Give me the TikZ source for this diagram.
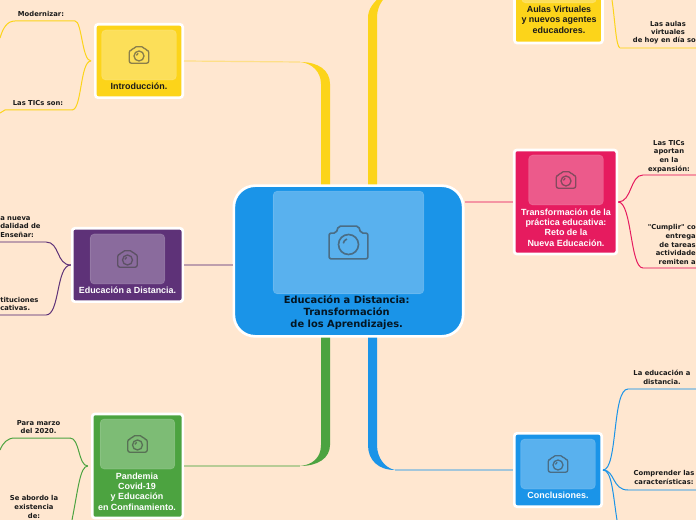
\documentclass[tikz,border=0pt]{standalone}
\usepackage{fontspec}
\setmainfont{Liberation Sans}
\newfontfamily\hojafont{DejaVu Sans}
\definecolor{fondo}{HTML}{FFE7D0}
\definecolor{amarillo}{HTML}{FCD41A}
\definecolor{azul}{HTML}{1A94E8}
\definecolor{morado}{HTML}{5E3278}
\definecolor{verde}{HTML}{4CA340}
\definecolor{rosa}{HTML}{E61B5F}
\definecolor{texto}{HTML}{1A1A1A}
\tikzset{
	central/.style={draw=white,line width=2pt,fill=azul,rounded corners=16pt,minimum width=172pt,minimum height=113pt},
	tema/.style={draw=white,line width=2pt,rounded corners=2pt,fill=#1},
	foto/.style={draw=white,draw opacity=.15,line width=.5pt,rounded corners=3pt,fill=white,fill opacity=.28,minimum width=56pt,minimum height=37.5pt},
	fotogrande/.style={foto,minimum width=113pt,minimum height=77pt},
	rotulo/.style={font=\bfseries\fontsize{6.7}{7.75}\selectfont,align=center,inner sep=0pt,text=white},
	hoja/.style={font=\hojafont\bfseries\fontsize{5.1}{6.5}\selectfont,align=center,inner sep=0pt,text=texto},
	rama/.style={line width=.75pt,#1},
	barra/.style={line width=.9pt,#1!40!fondo},
	camara/.pic={
		\draw[draw=black!75,opacity=.6,line join=round]
			(-9.7,8.2) [rounded corners=1.5pt] -- (-9.7,-4.7) -- (-6.2,-4.7) -- (-5,-8.2) -- (5,-8.2) -- (6.2,-4.7) -- (9.7,-4.7) -- (9.7,8.2) -- cycle;
		\draw[draw=black!75,opacity=.6] (0,1) circle (5);
		\draw[draw=black!75,opacity=.6] (-2.6,.4) arc (190:250:2.8);
	},
	camarachica/.style={scale=1,line width=1pt},
	camaragrande/.style={scale=2,line width=1.25pt}
}
\begin{document}
\begin{tikzpicture}[x=.75pt,y=-.75pt]
	\fill[fondo] (0,0) rectangle (696,520);
	\useasboundingbox (0,0) rectangle (696,520);

	% Troncos que salen del nodo central
	\fill[amarillo] (321,190) -- (321,84) .. controls (321,72) and (312,63) .. (300,62) .. controls (318,62) and (330,70) .. (330,84) -- (330,190) -- cycle;
	\fill[amarillo] (368,190) -- (368,18) .. controls (368,9) and (373,3) .. (381,-4) -- (386,-4) .. controls (380,3) and (377,9) .. (377,18) -- (377,190) -- cycle;
	\fill[verde] (321,330) -- (321,445) .. controls (321,458) and (312,465) .. (300,466) .. controls (318,466) and (330,458) .. (330,445) -- (330,330) -- cycle;
	\fill[azul] (368,330) -- (368,445) .. controls (368,460) and (378,470) .. (395,470) .. controls (385,468) and (377,458) .. (377,445) -- (377,330) -- cycle;

	% Nodo central
	\node[central] (centro) at (348.5,261) {};
	\node[fotogrande] (fotocentro) at (348.5,242.5) {};
	\pic[camaragrande] at (fotocentro) {camara};
	\node[rotulo,font=\hojafont\bfseries\fontsize{7.4}{9}\selectfont,text=black!85!azul] (titulo) at (346.7,313) {Educación a Distancia:\\Transformación\\de los Aprendizajes.};

	% Temas
	\node[tema=amarillo,minimum width=65.5pt,minimum height=55pt] (intro) at (139,61) {};
	\node[foto] (fotointro) at (139,55) {};
	\pic[camarachica] at (fotointro) {camara};
	\node[rotulo,text=texto] (tintro) at (139,86) {Introducción.};

	\node[tema=morado,minimum width=83pt,minimum height=55pt] (distancia) at (127.5,265) {};
	\node[foto] (fotodistancia) at (127.5,259) {};
	\pic[camarachica] at (fotodistancia) {camara};
	\node[rotulo] (tdistancia) at (127.5,290) {Educación a Distancia.};

	\node[tema=verde,minimum width=68pt,minimum height=78pt] (pandemia) at (137.5,466) {};
	\node[foto] (fotopandemia) at (137.5,444) {};
	\pic[camarachica] at (fotopandemia) {camara};
	\node[rotulo,align=center] (tpandemia) at (137,491.5) {Pandemia\\Covid-19\\y Educación\\en Confinamiento.};

	\node[tema=amarillo,minimum width=66pt,minimum height=60pt] (aulas) at (558.5,3) {};
	\node[foto] (fotoaulas) at (559,-22) {};
	\node[rotulo,text=texto] (taulas) at (559,19.5) {Aulas Virtuales\\y nuevos agentes\\educadores.};

	\node[tema=rosa,minimum width=77pt,minimum height=78pt] (reto) at (565.5,202) {};
	\node[foto] (fotoreto) at (566,180) {};
	\pic[camarachica] at (fotoreto) {camara};
	\node[rotulo] (treto) at (566,227.5) {Transformación de la\\práctica educativa:\\Reto de la\\Nueva Educación.};

	\node[tema=azul,minimum width=65.5pt,minimum height=55pt] (conclu) at (558,470) {};
	\node[foto] (fotoconclu) at (558,464) {};
	\pic[camarachica] at (fotoconclu) {camara};
	\node[rotulo] (tconclu) at (558,495) {Conclusiones.};

	% Puntos de paso de las ramas
	\coordinate (ci) at (300,62);
	\coordinate (cv) at (300,466);
	\coordinate (ca) at (395,470);

	% Lineas finas hasta cada tema
	\draw[barra=amarillo] (ci) -- (intro.east);
	\draw[barra=verde] (cv) -- (pandemia.east);
	\draw[barra=azul] (ca) -- (conclu.west);
	\draw[barra=morado] (centro.west |- distancia) -- (distancia.east);
	\draw[barra=rosa] (centro.east |- reto) -- (reto.west);

	% Hojas de Introduccion
	\coordinate (i1) at (75,21); \coordinate (i2) at (72,110);
	\draw[rama=amarillo] (intro.west) ++(-3,0) .. controls (82,61) and (82,21) .. (i1);
	\draw[rama=amarillo] (intro.west) ++(-3,0) .. controls (80,61) and (82,110) .. (i2);
	\draw[rama=amarillo] (i1) -- (15,21) .. controls (7,21) and (3,28) .. (0,38);
	\draw[rama=amarillo] (i2) -- (5,110) -- (0,113);
	\node[hoja] (h1) at (41,14) {Modernizar:};
	\node[hoja] (h2) at (38,103) {Las TICs son:};

	% Hojas de Educacion a Distancia
	\coordinate (d1) at (46,242); \coordinate (d2) at (46,315);
	\draw[rama=morado] (distancia.west) .. controls (56,265) and (60,242) .. (d1);
	\draw[rama=morado] (distancia.west) .. controls (56,265) and (60,315) .. (d2);
	\draw[barra=morado] (d1) -- (0,242);
	\draw[barra=morado] (d2) -- (0,315);
	\node[hoja,align=left,anchor=west] (h3) at (0,227) {a nueva\\dalidad de\\Enseñar:};
	\node[hoja,align=left,anchor=west] (h4) at (0,304) {tituciones\\cativas.};

	% Hojas de Pandemia
	\coordinate (p1) at (70,438); \coordinate (p2) at (72,520);
	\draw[rama=verde] (pandemia.west) ++(-3,0) .. controls (78,466) and (80,438) .. (p1);
	\draw[rama=verde] (pandemia.west) ++(-3,0) .. controls (80,466) and (78,490) .. (p2);
	\draw[rama=verde] (p1) -- (15,438) .. controls (7,438) and (3,443) .. (0,450);
	\node[hoja] (h5) at (38.5,427) {Para marzo\\del 2020.};
	\node[hoja] (h6) at (34,507) {Se abordo la\\existencia\\de:};

	% Hojas de Aulas Virtuales
	\coordinate (a1) at (620,48);
	\draw[rama=amarillo] (612,0) .. controls (615,20) and (616,47) .. (a1);
	\draw[barra=amarillo] (a1) -- (696,48);
	\node[hoja] (h7) at (668,28) {Las aulas\\virtuales};
	\node[hoja,anchor=east] (h8) at (696,40.5) {de hoy en día so};

	% Hojas de Transformacion
	\coordinate (r1) at (643,175); \coordinate (r2) at (643,268);
	\draw[rama=rosa] (reto.east) .. controls (632,202) and (630,175) .. (r1);
	\draw[rama=rosa] (reto.east) .. controls (632,202) and (630,268) .. (r2);
	\draw[barra=rosa] (r1) -- (696,175);
	\draw[barra=rosa] (r2) -- (696,268);
	\node[hoja] (h9) at (669,156.5) {Las TICs\\aportan\\en la\\expansión:};
	\node[hoja,align=right,anchor=east] (h10) at (696,244.5) {"Cumplir" co\\entrega\\de tareas\\actividade\\remiten a};

	% Hojas de Conclusiones
	\coordinate (c1) at (628,389); \coordinate (c2) at (628,490); \coordinate (c3) at (617,520);
	\draw[rama=azul] (conclu.east) .. controls (618,470) and (612,389) .. (c1);
	\draw[rama=azul] (conclu.east) .. controls (615,470) and (612,490) .. (c2);
	\draw[rama=azul] (conclu.east) .. controls (612,470) and (613,495) .. (c3);
	\draw[barra=azul] (c1) -- (696,389);
	\draw[barra=azul] (c2) -- (696,490);
	\node[hoja] (h11) at (662,377.5) {La educación a\\distancia.};
	\node[hoja] (h12) at (664,477.5) {Comprender las\\características:};
\end{tikzpicture}
\end{document}
